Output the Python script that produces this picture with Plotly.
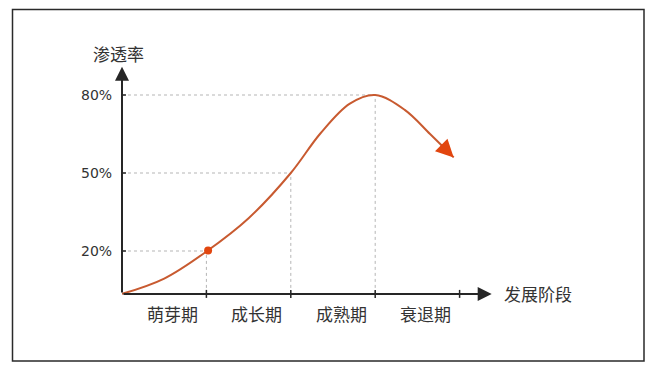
import plotly.graph_objects as go

# ---- data ----
stages = [0, 0.5, 1, 1.5, 2, 2.35, 2.7, 3, 3.35, 3.65, 3.93]
penetration = [3.5, 9.4, 19.8, 32.6, 50, 65.2, 76.7, 80, 74.3, 65, 56]
key_points_x = [1, 2, 3]
key_points_y = [20, 50, 80]
ytick_vals = [20, 50, 80]
ytick_text = ["20%", "50%", "80%"]
categories = ["萌芽期", "成长期", "成熟期", "衰退期"]
dot_x = [1.02]
dot_y = [20.2]
axis_origin = (0, 3.5)
x_axis_end = 4.38
y_axis_end = 90.9
y_title = "渗透率"
x_title = "发展阶段"

W, H = 656, 369
ML, MR, MT, MB = 122, 112, 43, 66
XR = [0, 5]
YR = [0, 100]

line_color = "#c85a30"
accent = "#e2460f"
axis_color = "#262626"
text_color = "#333333"
grid_color = "#b5b5b5"
cjk = "Noto Sans CJK SC"

fig = go.Figure()

shapes = []
for kx, ky in zip(key_points_x, key_points_y):
    shapes.append(dict(type="line", xref="x", yref="y", x0=axis_origin[0], x1=kx, y0=ky, y1=ky,
                       line=dict(color=grid_color, width=1, dash="dot"), layer="below"))
    shapes.append(dict(type="line", xref="x", yref="y", x0=kx, x1=kx, y0=axis_origin[1], y1=ky,
                       line=dict(color=grid_color, width=1, dash="dot"), layer="below"))

pw = W - ML - MR
ph = H - MT - MB
px_per_x = pw / (XR[1] - XR[0])
px_per_y = ph / (YR[1] - YR[0])
for i in range(1, 5):
    shapes.append(dict(type="line", xref="x", yref="y", x0=i, x1=i,
                       y0=axis_origin[1] - 4 / px_per_y, y1=axis_origin[1] + 4 / px_per_y,
                       line=dict(color=axis_color, width=1.5)))
for v in ytick_vals:
    shapes.append(dict(type="line", xref="x", yref="y", y0=v, y1=v,
                       x0=axis_origin[0] - 4 / px_per_x, x1=axis_origin[0] + 4 / px_per_x,
                       line=dict(color=axis_color, width=1.5)))

def px2paper_x(p):
    return (p - ML) / pw
def px2paper_y(p):
    return (H - MB - p) / ph
shapes.append(dict(type="rect", xref="paper", yref="paper",
                   x0=px2paper_x(12.5), x1=px2paper_x(644), y0=px2paper_y(9.5), y1=px2paper_y(361),
                   line=dict(color="#2a2a2a", width=1.5), fillcolor="rgba(0,0,0,0)"))

fig.add_trace(go.Scatter(x=stages, y=penetration, mode="lines",
                         line=dict(color=line_color, width=2, shape="spline", smoothing=1),
                         hoverinfo="skip", showlegend=False))
fig.add_trace(go.Scatter(x=dot_x, y=dot_y, mode="markers",
                         marker=dict(color=accent, size=8), hoverinfo="skip", showlegend=False))

annotations = []
annotations.append(dict(x=axis_origin[0], y=y_axis_end, ax=axis_origin[0], ay=axis_origin[1],
                        xref="x", yref="y", axref="x", ayref="y", text="", showarrow=True,
                        arrowhead=2, arrowsize=1.4, arrowwidth=2, arrowcolor=axis_color, standoff=0))
annotations.append(dict(x=x_axis_end, y=axis_origin[1], ax=axis_origin[0], ay=axis_origin[1],
                        xref="x", yref="y", axref="x", ayref="y", text="", showarrow=True,
                        arrowhead=2, arrowsize=1.4, arrowwidth=2, arrowcolor=axis_color, standoff=0))
annotations.append(dict(x=stages[-1], y=penetration[-1], ax=-14, ay=-14, xref="x", yref="y",
                        text="", showarrow=True, arrowhead=2, arrowsize=1.6, arrowwidth=2.2,
                        arrowcolor=accent, standoff=0))
for v, t in zip(ytick_vals, ytick_text):
    annotations.append(dict(x=axis_origin[0], y=v, xref="x", yref="y", text=t, showarrow=False,
                            xanchor="right", yanchor="middle", xshift=-8,
                            font=dict(family="DejaVu Sans", size=14, color=text_color)))
for i, c in enumerate(categories):
    annotations.append(dict(x=i + 0.5, y=axis_origin[1], xref="x", yref="y", text=c, showarrow=False,
                            xanchor="center", yanchor="top", xshift=8, yshift=-5,
                            font=dict(family=cjk, size=17, color=text_color)))
annotations.append(dict(x=axis_origin[0], y=y_axis_end, xref="x", yref="y", text=y_title,
                        showarrow=False, xanchor="center", yanchor="bottom", xshift=-4, yshift=-1,
                        font=dict(family=cjk, size=17, color=text_color)))
annotations.append(dict(x=x_axis_end, y=axis_origin[1], xref="x", yref="y", text=x_title,
                        showarrow=False, xanchor="left", yanchor="middle", xshift=10,
                        font=dict(family=cjk, size=17, color=text_color)))

fig.update_layout(
    width=W, height=H,
    margin=dict(l=ML, r=MR, t=MT, b=MB, pad=0),
    paper_bgcolor="white", plot_bgcolor="white",
    xaxis=dict(range=XR, visible=False, fixedrange=True),
    yaxis=dict(range=YR, visible=False, fixedrange=True),
    shapes=shapes, annotations=annotations, showlegend=False,
)

fig.write_html("out.html", config={"displayModeBar": False},
               post_script="document.body.style.margin='0px';")
